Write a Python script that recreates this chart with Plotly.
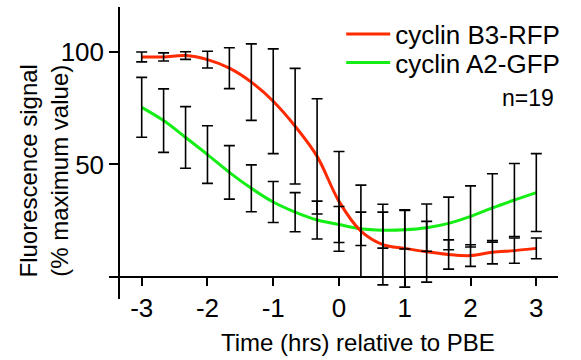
import plotly.graph_objects as go

# ---- data ----
time_hrs = [-3.0, -2.667, -2.333, -2.0, -1.667, -1.333, -1.0, -0.667, -0.333, 0.0,
            0.333, 0.667, 1.0, 1.333, 1.667, 2.0, 2.333, 2.667, 3.0]
b3_mean = [97.8, 97.8, 98.4, 96.6, 92.8, 86.6, 78.1, 67.0, 53.6, 33.6,
           20.4, 14.4, 12.7, 11.2, 10.0, 9.5, 11.0, 11.7, 12.7]
b3_err = [2.2, 1.8, 1.7, 3.7, 9.1, 17.0, 23.3, 25.7, 25.6, 22.2,
          20.4, 17.9, 17.2, 13.5, 6.5, 4.8, 5.2, 5.6, 4.6]
a2_mean = [75.4, 69.5, 62.0, 54.4, 46.5, 39.4, 33.3, 28.8, 25.3, 23.3,
           21.4, 20.8, 21.0, 21.9, 23.8, 26.9, 30.7, 34.2, 37.5]
a2_err = [13.3, 14.1, 13.7, 12.8, 11.9, 10.4, 9.1, 8.7, 8.4, 8.0,
          7.4, 8.0, 8.6, 10.5, 11.7, 13.6, 15.2, 16.2, 17.3]
x_ticks = [-3, -2, -1, 0, 1, 2, 3]
x_ticktext = ["-3", "-2", "-1", "0", "1", "2", "3"]
y_ticks = [0, 50, 100]
y_ticktext = ["", "50", "100"]

RED = "#ff2a00"
GREEN = "#14ee14"
FONT = "Liberation Sans, Arial, sans-serif"

X_RANGE = [-3.33, 3.33]
Y_RANGE = [-9.8, 120.0]

fig = go.Figure()
# lines
fig.add_trace(go.Scatter(x=time_hrs, y=a2_mean, mode="lines", name="cyclin A2-GFP",
                         legend="legend2",
                         line=dict(color=GREEN, width=3, shape="spline")))
fig.add_trace(go.Scatter(x=time_hrs, y=b3_mean, mode="lines", name="cyclin B3-RFP",
                         legend="legend",
                         line=dict(color=RED, width=3, shape="spline")))
# error bars on top
for m, e in [(a2_mean, a2_err), (b3_mean, b3_err)]:
    fig.add_trace(go.Scatter(x=time_hrs, y=m, mode="markers", showlegend=False,
                             marker=dict(size=1, opacity=0),
                             error_y=dict(type="data", array=e, visible=True,
                                          color="black", thickness=1.6, width=5.5),
                             hoverinfo="skip"))

x0_frac = (0 - Y_RANGE[0]) / (Y_RANGE[1] - Y_RANGE[0])

legend_common = dict(xanchor="left", yanchor="middle", font=dict(size=26),
                     bgcolor="rgba(0,0,0,0)", itemwidth=44)

fig.update_layout(
    width=581, height=360,
    margin=dict(l=120, r=23, t=7, b=61),
    paper_bgcolor="white", plot_bgcolor="white",
    font=dict(family=FONT, size=24, color="black"),
    showlegend=True,
    legend=dict(x=0.505, y=(299 - 34) / 292, **legend_common),
    legend2=dict(x=0.505, y=(299 - 62.5) / 292, **legend_common),
    xaxis=dict(range=X_RANGE, anchor="free", position=x0_frac,
               showline=True, linecolor="black", linewidth=1.5,
               ticks="outside", ticklen=8, tickwidth=1.5, tickcolor="black",
               tickvals=x_ticks, ticktext=x_ticktext, showgrid=False, zeroline=False,
               tickfont=dict(size=26)),
    yaxis=dict(range=Y_RANGE, showline=True, linecolor="black", linewidth=1.5,
               ticks="outside", ticklen=9, tickwidth=1.5, tickcolor="black",
               tickvals=y_ticks, ticktext=y_ticktext, showgrid=False, zeroline=False,
               tickfont=dict(size=26)),
    annotations=[
        dict(text="Fluorescence signal<br>(% maximum value)", textangle=-90,
             xref="paper", yref="paper", x=(43 - 120) / 438, y=(299 - 171.5) / 292,
             xanchor="center", yanchor="middle", showarrow=False,
             font=dict(size=24)),
        dict(text="Time (hrs) relative to PBE", xref="paper", yref="paper",
             x=(358 - 120) / 438, y=(299 - 342) / 292, xanchor="center",
             yanchor="middle", showarrow=False, font=dict(size=24)),
        dict(text="n=19", xref="paper", yref="paper", x=(556 - 120) / 438,
             y=(299 - 98) / 292, xanchor="right", yanchor="middle",
             showarrow=False, font=dict(size=23)),
    ],
)

fig.write_html("out.html")
